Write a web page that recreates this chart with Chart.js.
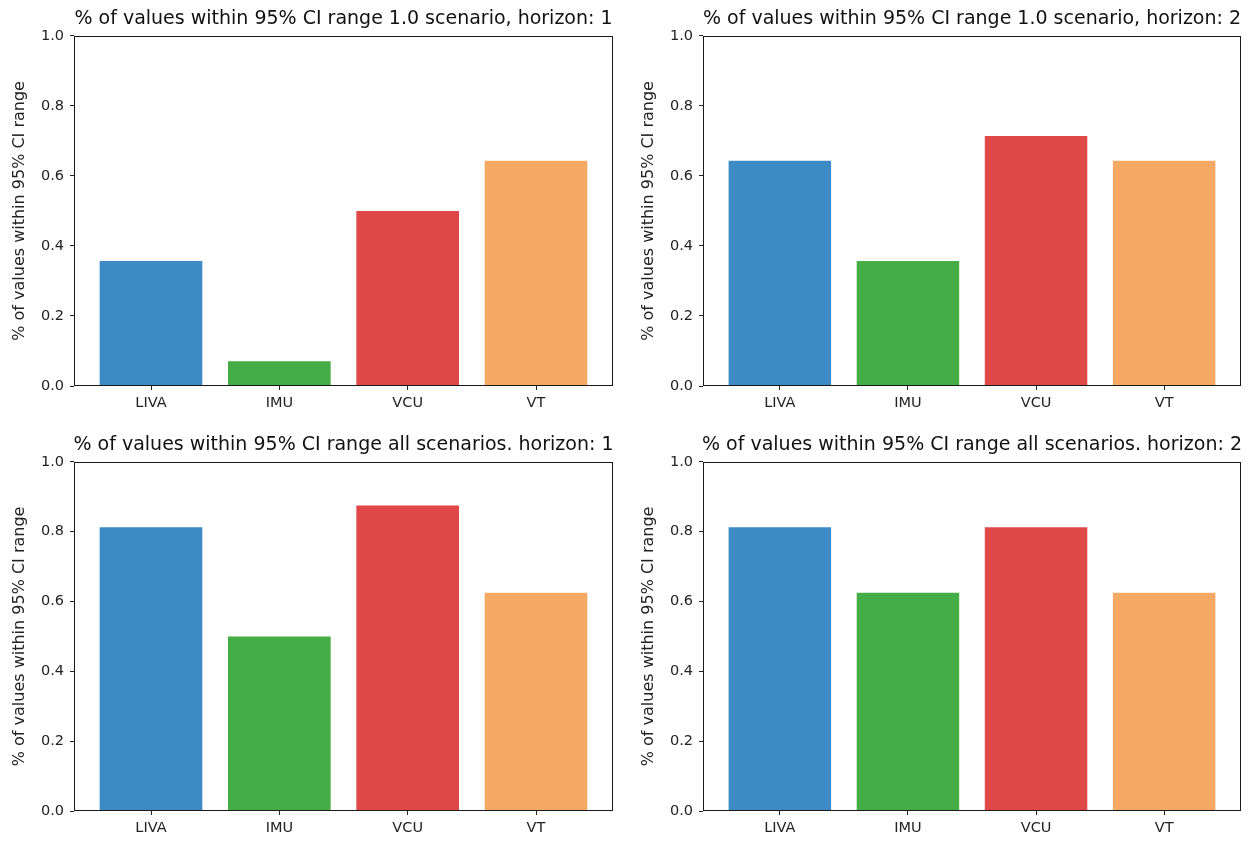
<!DOCTYPE html>
<html>
<head>
<meta charset="utf-8">
<script src="https://cdn.jsdelivr.net/npm/chart.js@4.4.1/dist/chart.umd.min.js"></script>
<style>
  html, body { margin: 0; padding: 0; background: #fff; }
  #wrap { position: relative; width: 1253px; height: 841px; overflow: hidden; background: #fff; }
  .panel { position: absolute; }
</style>
</head>
<body>
<div id="wrap">
  <div class="panel" style="left:0px;top:0px;width:687px;height:420px"><canvas id="c1"></canvas></div>
  <div class="panel" style="left:629px;top:0px;width:686px;height:420px"><canvas id="c2"></canvas></div>
  <div class="panel" style="left:0px;top:426px;width:687px;height:415px"><canvas id="c3"></canvas></div>
  <div class="panel" style="left:629px;top:426px;width:686px;height:415px"><canvas id="c4"></canvas></div>
</div>
<script>
// Categories and per-panel shares of values inside the 95% CI range
const categories = ['LIVA', 'IMU', 'VCU', 'VT'];
const yTicks = [0, 0.2, 0.4, 0.6, 0.8, 1.0];

const scen10Horizon1 = [0.357, 0.071, 0.5, 0.643];
const scen10Horizon2 = [0.643, 0.357, 0.714, 0.643];
const allScenHorizon1 = [0.8125, 0.5, 0.875, 0.625];
const allScenHorizon2 = [0.8125, 0.625, 0.8125, 0.625];

const titles = [
  '% of values within 95% CI range 1.0 scenario, horizon: 1',
  '% of values within 95% CI range 1.0 scenario, horizon: 2',
  '% of values within 95% CI range all scenarios. horizon: 1',
  '% of values within 95% CI range all scenarios. horizon: 2'
];
const yLabel = '% of values within 95% CI range';

const barColors = ['#3d8ac5', '#45ad45', '#e04747', '#f5a964'];
const FONT = "'DejaVu Sans', sans-serif";

// draws the full box (all four spines) round the plot area
const frame = {
  id: 'frame',
  afterDatasetsDraw(chart) {
    const a = chart.chartArea, ctx = chart.ctx;
    ctx.save();
    ctx.strokeStyle = '#1a1a1a';
    ctx.lineWidth = 1;
    ctx.strokeRect(Math.round(a.left) + 0.5, Math.round(a.top) + 0.5,
                   Math.round(a.right - a.left) - 1, Math.round(a.bottom - a.top) - 1);
    ctx.restore();
  }
};

function makeChart(id, title, values, xAxisHeight) {
  new Chart(document.getElementById(id), {
    type: 'bar',
    data: {
      datasets: [{
        data: values.map((v, i) => ({ x: i, y: v })),
        backgroundColor: barColors,
        borderWidth: 0,
        categoryPercentage: 0.8,
        barPercentage: 1.0
      }]
    },
    options: {
      responsive: true,
      maintainAspectRatio: false,
      animation: false,
      layout: { padding: 0 },
      plugins: {
        legend: { display: false },
        tooltip: { enabled: false },
        title: {
          display: true,
          text: title,
          color: '#111',
          font: { family: FONT, size: 19, weight: 'normal', lineHeight: 1.2 },
          padding: { top: 8, bottom: 5 }
        }
      },
      scales: {
        x: {
          type: 'linear',
          min: -0.6,
          max: 3.6,
          offset: false,
          afterBuildTicks(scale) { scale.ticks = categories.map((_, i) => ({ value: i })); },
          afterFit(scale) { scale.height = xAxisHeight; },
          ticks: {
            autoSkip: false,
            maxRotation: 0,
            color: '#222',
            font: { family: FONT, size: 14.5 },
            padding: 5,
            callback: (v) => categories[v]
          },
          grid: { offset: false, drawOnChartArea: false, drawTicks: true, tickLength: 4, color: '#222' },
          border: { display: false }
        },
        y: {
          position: 'left',
          min: 0,
          max: 1,
          afterBuildTicks(scale) { scale.ticks = yTicks.map(v => ({ value: v })); },
          afterFit(scale) { scale.width = 74; },
          ticks: {
            color: '#222',
            font: { family: FONT, size: 14.5 },
            padding: 6,
            callback: (v) => v.toFixed(1)
          },
          grid: { drawOnChartArea: false, drawTicks: true, tickLength: 4, color: '#222' },
          border: { display: false },
          title: {
            display: true,
            text: yLabel,
            color: '#222',
            font: { family: FONT, size: 16 },
            padding: { top: 10, bottom: 0 }
          }
        },
        // empty spacer on the right so the title centres over the plot box
        ySpacer: {
          type: 'linear',
          position: 'right',
          min: 0,
          max: 1,
          afterFit(scale) { scale.width = 74; },
          ticks: { display: false },
          grid: { display: false },
          border: { display: false }
        }
      }
    },
    plugins: [frame]
  });
}

makeChart('c1', titles[0], scen10Horizon1, 34);
makeChart('c2', titles[1], scen10Horizon2, 34);
makeChart('c3', titles[2], allScenHorizon1, 30);
makeChart('c4', titles[3], allScenHorizon2, 30);
</script>
</body>
</html>
